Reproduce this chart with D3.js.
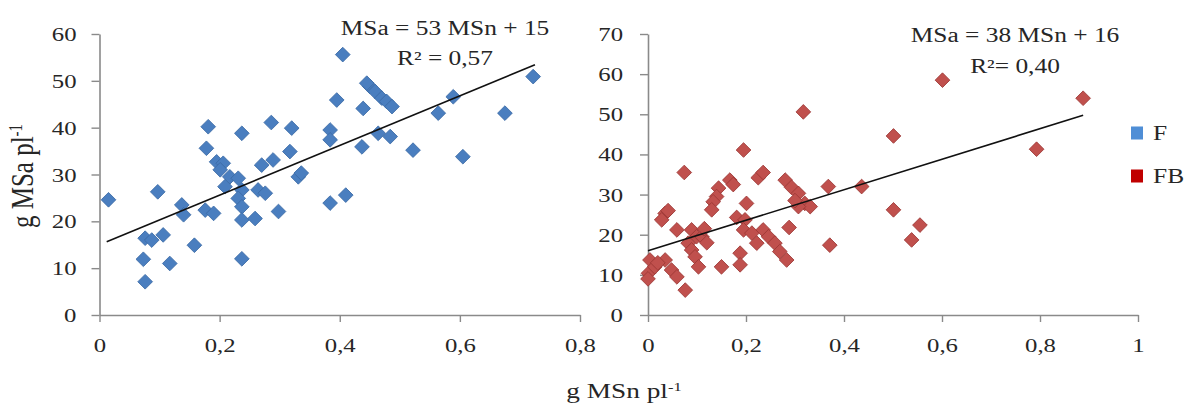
<!DOCTYPE html>
<html><head><meta charset="utf-8">
<script src="https://cdn.jsdelivr.net/npm/d3@7"></script>
<style>
body{margin:0;background:#fff}
svg{display:block}
text{font-family:"Liberation Serif","Times New Roman",serif;fill:#262626}
</style>
</head><body><svg id="c" width="1190" height="403"></svg>
<script>
// ---- data ----
const fX = [0.015,0.097,0.181,0.178,0.237,0.286,0.320,0.317,0.195,0.206,0.201,0.217,0.231,0.209,0.237,0.231,0.270,0.289,0.331,0.264,0.276,0.237,0.237,0.259,0.298,0.137,0.140,0.176,0.190,0.076,0.087,0.106,0.073,0.117,0.158,0.076,0.237,0.722,0.675,0.589,0.564,0.605,0.522,0.450,0.459,0.470,0.478,0.487,0.445,0.395,0.439,0.384,0.384,0.437,0.464,0.484,0.384,0.410,0.405,0.336];
const fY = [24.6,26.3,40.2,35.6,38.8,41.1,39.9,34.9,32.7,32.4,31.0,29.5,29.2,27.4,26.7,24.9,32.0,33.1,29.5,26.7,26.0,23.1,20.3,20.6,22.1,23.5,21.4,22.4,21.7,16.4,16.0,17.1,11.9,11.0,14.9,7.1,12.0,50.9,43.1,46.6,43.1,33.8,35.2,48.8,47.7,46.3,45.6,44.5,49.5,45.9,44.1,39.5,37.4,35.9,38.8,38.1,23.9,25.6,55.6,30.3];
const fbX = [0.195,0.074,0.144,0.167,0.174,0.225,0.235,0.280,0.293,0.307,0.368,0.436,0.317,0.601,0.888,0.501,0.793,0.501,0.555,0.538,0.140,0.133,0.130,0.201,0.320,0.331,0.307,0.035,0.028,0.041,0.059,0.181,0.198,0.195,0.212,0.222,0.235,0.246,0.259,0.269,0.283,0.288,0.371,0.089,0.099,0.082,0.089,0.096,0.103,0.110,0.076,0.150,0.188,0.188,0.004,0.001,0.014,0.035,0.048,0.059,0.000,0.020,0.300,0.115,0.120];
const fbY = [41.1,35.5,31.6,33.6,32.5,34.2,35.5,33.6,31.8,30.3,32.0,32.0,50.6,58.5,54.0,44.6,41.3,26.2,22.4,18.7,29.5,28.2,26.2,27.8,27.8,27.0,27.0,25.3,23.7,26.0,21.2,24.3,23.7,21.2,20.4,17.9,21.2,19.5,17.9,15.8,13.7,21.8,17.4,21.2,19.5,17.9,16.2,14.5,12.0,19.5,6.2,12.0,15.4,12.5,13.7,10.4,12.0,13.7,11.2,9.5,9.0,13.0,28.5,21.5,18.0];

const leftXTicks = [0,0.2,0.4,0.6,0.8];
const leftXLabels = ["0","0,2","0,4","0,6","0,8"];
const leftYTicks = [0,10,20,30,40,50,60];
const rightXTicks = [0,0.2,0.4,0.6,0.8,1];
const rightXLabels = ["0","0,2","0,4","0,6","0,8","1"];
const rightYTicks = [0,10,20,30,40,50,60,70];

const fitF = [53,15];           // slope, intercept
const fitFRange = [0.012,0.725];
const fitFB = [38,16];
const fitFBRange = [0,0.888];
const eqF = ["MSa = 53 MSn + 15","R² = 0,57"];
const eqFB = ["MSa = 38 MSn + 16","R²= 0,40"];
const legendNames = ["F","FB"];
const legendColors = ["#4f8ed6","#c00000"];

// ---- drawing ----
const SX = 1.27;
const svg = d3.select("#c");
const axisColor = "#8a8a8a";

function stext(g,x,y,str,size,anchor){
  return g.append("text")
    .attr("transform",`translate(${x},${y}) scale(${SX},1)`)
    .attr("text-anchor",anchor||"middle")
    .style("font-size",size+"px")
    .text(str);
}

function panel(opt){
  const x = d3.scaleLinear().domain(opt.xDomain).range(opt.xRange);
  const y = d3.scaleLinear().domain(opt.yDomain).range([315,34]);
  const g = svg.append("g");

  const ya = d3.axisLeft(y).tickValues(opt.yTicks).tickSize(8).tickSizeOuter(0).tickFormat(d3.format("d"));
  const yg = g.append("g").attr("transform",`translate(${opt.xRange[0]},0)`).call(ya);
  yg.selectAll("text").attr("x",null).attr("dy",null)
    .attr("transform",`translate(${opt.yLabelOff},6.5) scale(${SX},1)`)
    .attr("text-anchor","end").style("font-size","19.5px");

  const xa = d3.axisBottom(x).tickValues(opt.xTicks).tickSize(7).tickSizeOuter(0)
    .tickFormat((d,i)=>opt.xLabels[i]);
  const xg = g.append("g").attr("transform","translate(0,315)").call(xa);
  xg.selectAll("text").attr("y",null).attr("dy",null)
    .attr("transform",`translate(0,37) scale(${SX},1)`)
    .attr("text-anchor","middle").style("font-size","19.5px");

  [yg,xg].forEach(a=>{
    a.select(".domain").attr("stroke",axisColor).attr("stroke-width",1.6);
    a.selectAll(".tick line").attr("stroke",axisColor).attr("stroke-width",1.4);
    a.attr("font-family",null).attr("font-size",null);
  });

  const sym = d3.symbol().type(d3.symbolSquare).size(108);
  g.append("g").selectAll("path").data(opt.xs.map((v,i)=>[v,opt.ys[i]]))
    .join("path")
    .attr("d",sym)
    .attr("transform",d=>`translate(${x(d[0])},${y(d[1])}) rotate(45)`)
    .attr("fill",opt.fill).attr("stroke",opt.stroke).attr("stroke-width",0.8);

  const line = d3.line().x(d=>x(d)).y(d=>y(opt.fit[0]*d+opt.fit[1]));
  g.append("path").datum(opt.fitRange).attr("d",line)
    .attr("stroke","#111").attr("stroke-width",1.6).attr("fill","none");

  stext(g,opt.eqX,opt.eqY[0],opt.eq[0],20,"middle");
  stext(g,opt.eqX,opt.eqY[1],opt.eq[1],20,"middle");
}

panel({xDomain:[0,0.8],xRange:[99.5,580],yDomain:[0,60],yTicks:leftYTicks,
  xTicks:leftXTicks,xLabels:leftXLabels,xs:fX,ys:fY,fill:"#4a7ebf",stroke:"#3b6aa5",
  fit:fitF,fitRange:fitFRange,eq:eqF,eqX:445,eqY:[35,65],yLabelOff:-23});
panel({xDomain:[0,1],xRange:[648,1138],yDomain:[0,70],yTicks:rightYTicks,
  xTicks:rightXTicks,xLabels:rightXLabels,xs:fbX,ys:fbY,fill:"#c0504d",stroke:"#9c3835",
  fit:fitFB,fitRange:fitFBRange,eq:eqFB,eqX:1015,eqY:[42,73],yLabelOff:-25});

// legend
const lg = svg.append("g");
legendNames.forEach((n,i)=>{
  const cy = 133 + i*43;
  lg.append("rect").attr("x",1131).attr("y",cy-6.5).attr("width",12).attr("height",13).attr("fill",legendColors[i]);
  stext(lg,1153,cy+7,n,20,"start");
});

// axis titles
const yt = svg.append("text")
  .attr("transform",`translate(33,176) scale(${SX},1) rotate(-90)`)
  .attr("text-anchor","middle").style("font-size","25px");
yt.append("tspan").text("g MSa pl");
yt.append("tspan").attr("dy",-9).style("font-size","15px").text("-1");

const xt = svg.append("text")
  .attr("transform",`translate(624,398) scale(${SX},1)`)
  .attr("text-anchor","middle").style("font-size","21.5px");
xt.append("tspan").text("g MSn pl");
xt.append("tspan").attr("dy",-7).style("font-size","13px").text("-1");
</script>
</body></html>
